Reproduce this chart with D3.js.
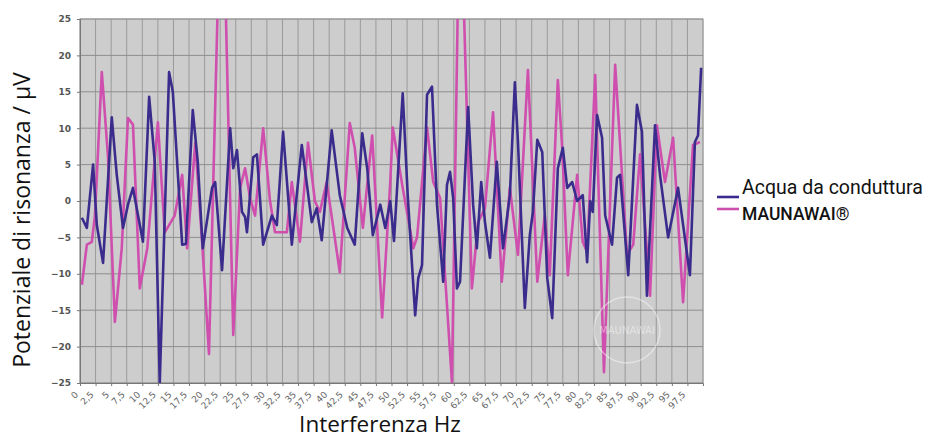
<!DOCTYPE html>
<html>
<head>
<meta charset="utf-8">
<script src="https://cdn.jsdelivr.net/npm/d3@7"></script>
<style>
    body { margin: 0; background: #fff; }
    svg { display: block; }
</style>
</head>
<body>
<svg id="chart" width="931" height="438"></svg>
<script>
// frequenze (Hz) e potenziale (µV)
const freqAcqua = [0.3, 1.1, 2.1, 2.7, 3.7, 5.1, 5.9, 6.9, 7.7, 8.5, 10.1, 11.1, 12.0, 12.8, 14.3, 14.9, 16.4, 17.0,
    18.1, 18.9, 19.7, 21.2, 21.7, 22.8, 24.1, 24.6, 25.2, 26.0, 26.5, 26.8, 27.8, 28.4, 29.4, 30.8, 31.6, 32.6,
    34.0, 35.6, 37.2, 38.0, 38.8, 40.4, 41.7, 42.9, 44.1, 45.3, 46.1, 47.0, 48.2, 49.0, 49.8, 50.4, 51.8, 52.6,
    53.8, 54.3, 54.9, 55.7, 56.5, 57.3, 58.3, 58.9, 59.4, 59.9, 60.5, 61.0, 62.3, 63.1, 63.7, 64.4, 65.0, 65.8,
    66.9, 67.9, 69.0, 69.8, 70.3, 71.4, 72.2, 72.7, 73.4, 74.2, 75.0, 75.8, 76.7, 77.5, 78.2, 79.0, 79.8, 80.7,
    81.4, 81.9, 82.3, 83.0, 83.8, 84.3, 85.4, 86.2, 86.7, 88.0, 89.4, 90.2, 91.0, 92.3, 93.1, 94.4, 96.0, 97.9,
    98.7, 99.2, 99.7];
const valAcqua = [-2.3, -3.7, 5, -3.3, -8.5, 11.5, 3.6, -3.7, -0.5, 1.8, -5.6, 14.3, 5.4, -25, 17.7, 15, -6, -5.9,
    12.5, 5.4, -6.5, 1.8, 2.6, -9.5, 10, 4.5, 7, -1.5, -2.2, -4.3, 6, 6.4, -6, -2, -3.3, 9.5,
    -6, 7.7, -2.9, -1, -5.4, 9.7, 0.8, -3.7, -6, 9.3, 4.5, -4.7, -0.5, -3.7, 0, -5.5, 14.8, 0.8,
    -15.7, -10.6, -8.8, 14.6, 15.7, -0.5, -11.1, 2.2, 4, 0.4, -12, -11.1, 12.9, -0.5, -6.5, 2.6, -2.9, -7.8,
    5.4, -6.5, 0.8, 16.3, 8.1, -14.7, -4.7, -1.5, 8.4, 6.7, -10.6, -16.1, 4.5, 7.3, 1.8, 2.6, 0, 0.8,
    -8.4, 0, -1.5, 11.8, 8.7, -2, -6, 3.2, 3.6, -10.2, 13.2, 9.5, -13, 10.4, 3.6, -5, 1.8, -10.2,
    8.1, 9, 18.3];

const freqMaunawai = [0.3, 1.1, 1.9, 2.4, 3.5, 4.5, 5.6, 6.7, 7.7, 8.5, 9.6, 10.8, 12.5, 13.6, 15.2, 16.4, 17.2,
    18.5, 19.6, 20.7, 22.2, 23.3, 24.6, 25.7, 26.5, 27.3, 28.1, 29.4, 30.5, 31.3, 33.2, 34.0, 35.3, 36.6, 37.7,
    38.5, 39.6, 41.7, 43.3, 44.1, 45.4, 46.9, 48.5, 49.8, 50.2, 51.8, 53.5, 54.1, 55.7, 56.7, 57.8, 59.7, 60.7,
    61.5, 62.9, 63.9, 65.0, 66.3, 67.7, 69.0, 70.3, 71.9, 73.4, 74.6, 75.4, 76.7, 77.4, 78.3, 79.8, 80.7, 81.4,
    82.7, 84.1, 85.9, 87.8, 88.8, 89.9, 91.5, 92.6, 93.9, 95.2, 96.8, 98.4, 99.5];
const valMaunawai = [-11.5, -6, -5.6, -2, 17.7, 6, -16.6, -6.5, 11.4, 10.5, -12, -6.5, 10.8, -4.3, -2, 3.6, -6.5,
    8, -5.6, -21, 30, 30, -18.4, 1.8, 4.5, 0.4, -2, 10, 0, -4.3, -4.3, 2.6, -5.6, 8, 0,
    -1.5, 2.6, -9.8, 10.7, 7.3, -3.7, 9, -16, 2.6, 10.1, 1.8, -6.5, -5, 10.1, 2.6, 0.4, -24.9, 30,
    30, -12, -2.9, -1, 12.2, -11.1, 1.8, -7.4, 18, -11.1, -2, -10.2, 16.6, 7.3, -10.2, 3.6, -5.6, -7,
    17.3, -23.5, 18.7, -7.4, -6, 6.4, -13, 10.4, 2.6, 8.7, -13.9, 7.7, 8.1];

const yTicks = [25, 20, 15, 10, 5, 0, -5, -10, -15, -20, -25];
const xTickLabels = ['0', '2,5', '5', '7,5', '10', '12,5', '15', '17,5', '20', '22,5', '25', '27,5', '30', '32,5',
    '35', '37,5', '40', '42,5', '45', '47,5', '50', '52,5', '55', '57,5', '60', '62,5', '65', '67,5', '70', '72,5',
    '75', '77,5', '80', '82,5', '85', '87,5', '90', '92,5', '95', '97,5'];

const serie = [
    { name: 'Acqua da conduttura', freq: freqAcqua, val: valAcqua, color: '#3a2c8c' },
    { name: 'MAUNAWAI®', freq: freqMaunawai, val: valMaunawai, color: '#cf4fae' },
];

const svg = d3.select('#chart');
const margin = { left: 80, top: 19, right: 703, bottom: 383 };

const x = d3.scaleLinear().domain([0, 100]).range([margin.left, margin.right]);
const y = d3.scaleLinear().domain([-25, 25]).range([margin.bottom, margin.top]);

svg.append('defs').append('clipPath')
    .attr('id', 'plotClip')
    .append('rect')
    .attr('x', margin.left)
    .attr('y', margin.top)
    .attr('width', margin.right - margin.left)
    .attr('height', margin.bottom - margin.top);

// sfondo e griglia
svg.append('rect')
    .attr('x', margin.left)
    .attr('y', margin.top)
    .attr('width', margin.right - margin.left)
    .attr('height', margin.bottom - margin.top)
    .attr('fill', '#cdcdcd')
    .attr('stroke', '#a9a9a9');

const xGrid = d3.range(0, 100.01, 2.5);
svg.append('g').selectAll('line')
    .data(xGrid)
    .enter()
    .append('line')
    .attr('x1', d => x(d))
    .attr('x2', d => x(d))
    .attr('y1', margin.top)
    .attr('y2', margin.bottom)
    .attr('stroke', '#9a9a9a')
    .attr('stroke-width', 1);

svg.append('g').selectAll('line')
    .data(yTicks)
    .enter()
    .append('line')
    .attr('x1', margin.left)
    .attr('x2', margin.right)
    .attr('y1', d => y(d))
    .attr('y2', d => y(d))
    .attr('stroke', '#8e8e8e')
    .attr('stroke-width', 1);

// asse y
const yAxis = svg.append('g')
    .attr('transform', `translate(${margin.left},0)`)
    .call(d3.axisLeft(y).tickValues(yTicks).tickSize(3).tickPadding(6));
yAxis.select('.domain').attr('stroke', '#777');
yAxis.selectAll('.tick line').attr('stroke', '#777');
yAxis.selectAll('text')
    .attr('fill', '#555')
    .attr('font-family', 'DejaVu Sans')
    .attr('font-size', 9)
    .attr('font-weight', 'bold');

// asse x
const xAxis = svg.append('g')
    .attr('transform', `translate(0,${margin.bottom})`)
    .call(d3.axisBottom(x)
        .tickValues(d3.range(0, 97.51, 2.5))
        .tickFormat((d, i) => xTickLabels[i])
        .tickSize(3));
xAxis.select('.domain').attr('stroke', '#777');
xAxis.selectAll('.tick line').attr('stroke', '#777');
xAxis.selectAll('text')
    .attr('fill', '#666')
    .attr('font-family', 'DejaVu Sans')
    .attr('font-size', 9)
    .attr('text-anchor', 'end')
    .attr('x', 0)
    .attr('y', 0)
    .attr('dy', '0.35em')
    .attr('transform', 'translate(-4,10) rotate(-45)');

// linee
const line = d3.line()
    .x(d => x(d[0]))
    .y(d => y(d[1]))
    .curve(d3.curveLinear);

const lines = svg.append('g').attr('clip-path', 'url(#plotClip)');
serie.slice().reverse().forEach((s) => {
    lines.append('path')
        .datum(s.freq.map((f, i) => [f, s.val[i]]))
        .attr('d', line)
        .attr('fill', 'none')
        .attr('stroke', s.color)
        .attr('stroke-width', 2.6)
        .attr('stroke-linejoin', 'round');
});

// filigrana
const mark = svg.append('g').attr('opacity', 0.45);
mark.append('circle')
    .attr('cx', 627)
    .attr('cy', 330)
    .attr('r', 33)
    .attr('fill', 'none')
    .attr('stroke', '#fff')
    .attr('stroke-width', 1.5);
mark.append('text')
    .attr('x', 627)
    .attr('y', 334)
    .attr('text-anchor', 'middle')
    .attr('font-family', 'DejaVu Sans')
    .attr('font-size', 10)
    .attr('fill', '#fff')
    .text('MAUNAWAI');

// titoli degli assi
svg.append('text')
    .attr('transform', `translate(30,220) rotate(-90)`)
    .attr('text-anchor', 'middle')
    .attr('font-family', 'Open Sans')
    .attr('font-size', 23)
    .attr('fill', '#111')
    .text('Potenziale di risonanza / µV');

svg.append('text')
    .attr('x', 380)
    .attr('y', 432)
    .attr('text-anchor', 'middle')
    .attr('font-family', 'Open Sans')
    .attr('font-size', 22.5)
    .attr('fill', '#111')
    .text('Interferenza Hz');

// legenda: chiavi ravvicinate, testi più distanziati
const keyY = [197, 209];
const labelY = [194, 220];
serie.forEach((s, i) => {
    svg.append('line')
        .attr('x1', 717)
        .attr('x2', 739)
        .attr('y1', keyY[i])
        .attr('y2', keyY[i])
        .attr('stroke', s.color)
        .attr('stroke-width', 2.6);
    svg.append('text')
        .attr('x', 742)
        .attr('y', labelY[i])
        .attr('font-family', 'Roboto')
        .attr('font-size', i == 1 ? 17.5 : 19.5)
        .attr('font-weight', i == 1 ? 500 : 400)
        .attr('fill', '#111')
        .text(s.name);
});
</script>
</body>
</html>
